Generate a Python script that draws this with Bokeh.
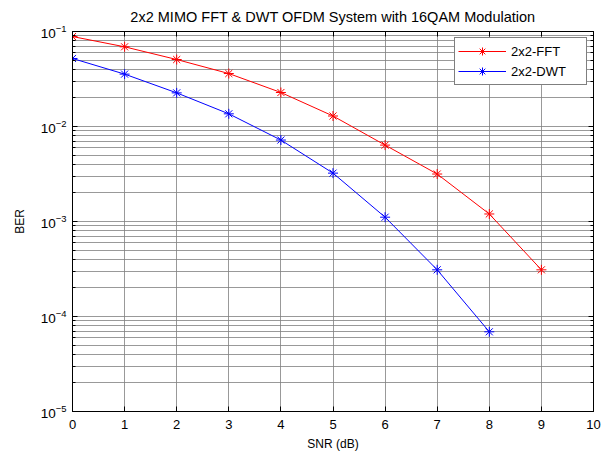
from bokeh.plotting import figure
from bokeh.models import (LogAxis, LinearAxis, FixedTicker, CustomJSTickFormatter,
                          LogTickFormatter, Legend, LegendItem)
from bokeh.embed import file_html
from bokeh.resources import INLINE

# SNR points (dB) and measured bit error rates
snr = [0, 1, 2, 3, 4, 5, 6, 7, 8, 9]
ber_fft = [0.0885, 0.069, 0.0507, 0.0361, 0.0228, 0.0129, 0.00637, 0.00316, 0.0012, 0.00031]
snr_dwt = [0, 1, 2, 3, 4, 5, 6, 7, 8]
ber_dwt = [0.052, 0.0356, 0.0226, 0.0136, 0.0072, 0.00323, 0.00111, 0.00031, 0.000069]

x_ticks = [0, 1, 2, 3, 4, 5, 6, 7, 8, 9, 10]
y_decades = [-5, -4, -3, -2, -1]

FONT = "Liberation Sans"

y_major = [10.0 ** d for d in y_decades]
y_minor = [k * 10.0 ** d for d in y_decades[:-1] for k in range(2, 10)]

p = figure(width=610, height=454, y_axis_type="log",
           x_range=(0, 10), y_range=(1e-5, 1e-1),
           output_backend="svg", toolbar_location=None,
           min_border_left=72, min_border_right=17,
           min_border_top=31, min_border_bottom=43,
           title="2x2 MIMO FFT & DWT OFDM System with 16QAM Modulation")

p.title.align = "center"
p.title.vertical_align = "middle"
p.title.text_font = FONT
p.title.text_font_size = "14.5px"
p.title.text_font_style = "normal"
p.title.text_color = "black"
p.title.standoff = 11

p.outline_line_color = "black"
p.outline_line_width = 1
p.background_fill_color = "white"
p.border_fill_color = "white"

yt = FixedTicker(ticks=y_major, minor_ticks=y_minor)
xt = FixedTicker(ticks=x_ticks)

p.yaxis.ticker = yt
p.yaxis.formatter = LogTickFormatter()
p.xaxis.ticker = xt

for ax in (p.xaxis[0], p.yaxis[0]):
    ax.major_tick_in = 5
    ax.major_tick_out = 0
    ax.minor_tick_in = 3
    ax.minor_tick_out = 0
    ax.major_label_text_font = FONT
    ax.major_label_text_font_size = "13px"
    ax.major_label_text_color = "black"
    ax.axis_label_text_font = FONT
    ax.axis_label_text_font_size = "12px"
    ax.axis_label_text_font_style = "normal"
    ax.axis_label_text_color = "black"
    ax.axis_line_color = "black"
    ax.major_tick_line_color = "black"
    ax.minor_tick_line_color = "black"

p.yaxis.major_label_text_font_size = "13.5px"
p.xaxis.minor_tick_line_color = None
p.xaxis.axis_label = "SNR (dB)"
p.yaxis.axis_label = "BER"
p.xaxis.major_label_standoff = 8
p.yaxis.major_label_standoff = 6
p.xaxis.axis_label_standoff = 5
p.yaxis.axis_label_standoff = 11

# mirrored tick marks on the right and top edges
right = LogAxis(ticker=yt, formatter=CustomJSTickFormatter(code="return ''"),
                major_tick_in=5, major_tick_out=0, minor_tick_in=3, minor_tick_out=0,
                major_label_standoff=0, axis_line_color="black")
top = LinearAxis(ticker=xt, formatter=CustomJSTickFormatter(code="return ''"),
                 major_tick_in=5, major_tick_out=0, minor_tick_line_color=None,
                 major_label_standoff=0, axis_line_color="black")
p.add_layout(right, "right")
p.add_layout(top, "above")

# grid
p.xgrid.grid_line_color = "#808080"
p.xgrid.grid_line_alpha = 0.8
p.ygrid.grid_line_color = "#808080"
p.ygrid.grid_line_alpha = 0.8
p.ygrid.minor_grid_line_color = "#808080"
p.ygrid.minor_grid_line_alpha = 0.8

l1 = p.line(snr, ber_fft, line_color="red", line_width=1)
s1 = p.scatter(snr, ber_fft, marker="asterisk", size=10, line_color="red", line_width=1)
l2 = p.line(snr_dwt, ber_dwt, line_color="blue", line_width=1)
s2 = p.scatter(snr_dwt, ber_dwt, marker="asterisk", size=10, line_color="blue", line_width=1)

legend = Legend(items=[LegendItem(label="2x2-FFT", renderers=[l1, s1]),
                       LegendItem(label="2x2-DWT", renderers=[l2, s2])],
                location="top_right")
legend.label_text_font = FONT
legend.label_text_font_size = "13px"
legend.label_text_color = "black"
legend.border_line_color = "black"
legend.border_line_width = 1
legend.background_fill_alpha = 1
legend.glyph_width = 48
legend.glyph_height = 20
legend.label_height = 20
legend.label_width = 72
legend.spacing = 0
legend.padding = 3
legend.margin = 6
legend.label_standoff = 5
p.add_layout(legend)

open("out.html", "w").write(file_html(p, INLINE))
